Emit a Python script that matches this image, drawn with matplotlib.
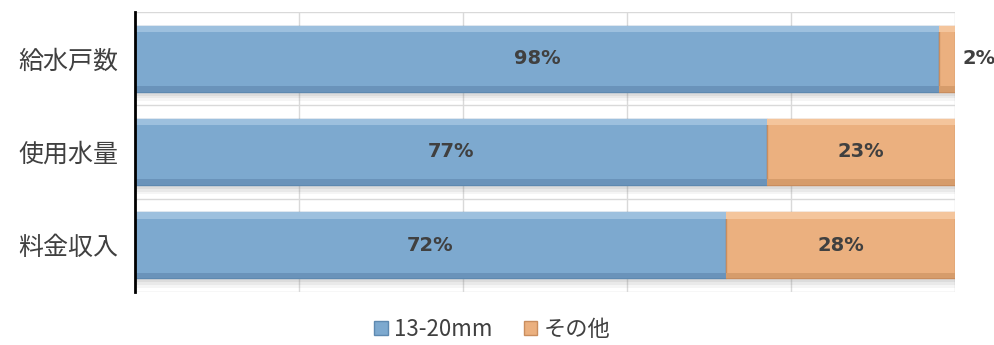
import numpy as np
import matplotlib.pyplot as plt
from matplotlib.patches import Patch

plt.rcParams['font.family'] = ['Noto Sans CJK JP', 'DejaVu Sans']

# categories, top to bottom
categories = ['給水戸数', '使用水量', '料金収入']
small = [98, 77, 72]    # 13-20mm share (%)
other = [2, 23, 28]     # その他 share (%)
series_names = ['13-20mm', 'その他']

blue = '#7DA9CF'
orange = '#EBB07F'
text_col = '#404040'

fig = plt.figure(figsize=(9.95, 3.45), dpi=100)
ax = fig.add_axes([0.1357, 0.154, 0.8243, 0.811])

y = np.arange(len(categories))
h = 0.71

# soft drop shadow under each bar
for dy, a in [(0.10, 0.08), (0.07, 0.10), (0.04, 0.12)]:
    ax.barh(y + dy, np.add(small, other), height=h, color='#808080',
            alpha=a, zorder=1, linewidth=0)

ax.barh(y, small, height=h, color=blue, edgecolor='#5E89B0',
        linewidth=1.0, zorder=3)
ax.barh(y, other, left=small, height=h, color=orange,
        edgecolor='#C98D5E', linewidth=1.0, zorder=3)

# bevel highlights along the top and darker strips along the bottom
ax.barh(y - h / 2 + 0.035, small, height=0.07, color='#9DC0DE', zorder=4,
        linewidth=0)
ax.barh(y - h / 2 + 0.035, other, left=small, height=0.07, color='#F4C59C',
        zorder=4, linewidth=0)
ax.barh(y + h / 2 - 0.03, small, height=0.06, color='#6A93BA', zorder=4,
        linewidth=0)
ax.barh(y + h / 2 - 0.03, other, left=small, height=0.06, color='#D69C6B',
        zorder=4, linewidth=0)

# value labels
for i in range(len(categories)):
    ax.text(small[i] / 2, y[i], f'{small[i]}%', ha='center', va='center',
            fontsize=14, fontweight='bold', color=text_col, zorder=5,
            family=['DejaVu Sans'])
    if other[i] < 5:
        ax.text(small[i] + other[i] + 0.9, y[i], f'{other[i]}%',
                ha='left', va='center', fontsize=14, fontweight='bold',
                color=text_col, zorder=5, family=['DejaVu Sans'])
    else:
        ax.text(small[i] + other[i] / 2, y[i], f'{other[i]}%',
                ha='center', va='center', fontsize=14, fontweight='bold',
                color=text_col, zorder=5, family=['DejaVu Sans'])

ax.set_xlim(0, 100)
ax.set_ylim(2.5, -0.5)
ax.set_xticks(np.arange(0, 101, 20))
ax.set_xticklabels([])
ax.tick_params(axis='x', length=0)
ax.set_yticks(y)
ax.set_yticklabels(categories, fontsize=18, color=text_col)
ax.tick_params(axis='y', length=0, pad=12)

ax.grid(axis='x', color='#D9D9D9', linewidth=1.0, zorder=0)
for yl in np.arange(-0.5, len(categories), 1.0):
    ax.axhline(yl, color='#D9D9D9', linewidth=1.0, zorder=0)
ax.set_axisbelow(True)

for side in ['top', 'right', 'bottom']:
    ax.spines[side].set_visible(False)
ax.spines['left'].set_color('black')
ax.spines['left'].set_linewidth(2.0)
ax.spines['left'].set_zorder(6)

handles = [Patch(facecolor=blue, edgecolor='#5E89B0'),
           Patch(facecolor=orange, edgecolor='#C98D5E')]
fig.legend(handles, series_names, loc='center', bbox_to_anchor=(0.495, 0.045),
           ncol=2, frameon=False, fontsize=16, handlelength=0.6,
           handleheight=0.6, handletextpad=0.3, columnspacing=1.4,
           labelcolor=text_col)

fig.savefig('out.png', dpi=100)
